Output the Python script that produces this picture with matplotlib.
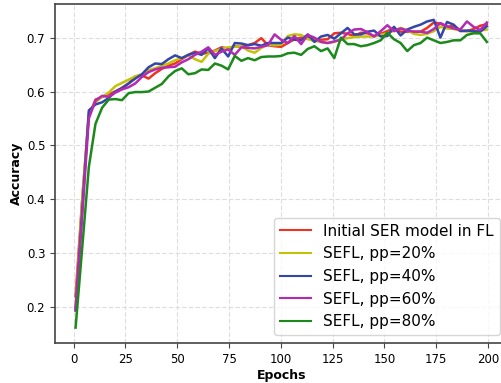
import numpy as np
import matplotlib

matplotlib.use("Agg")
import matplotlib.pyplot as plt  # noqa: E402

# evaluation epochs (one point roughly every 3.2 epochs)
epochs = np.arange(1, 200, 3.2)

initial_ser = [
    0.220, 0.400, 0.555, 0.585, 0.590, 0.595, 0.600, 0.607, 0.615, 0.628,
    0.630, 0.624, 0.634, 0.642, 0.648, 0.652, 0.660, 0.668, 0.674, 0.670,
    0.672, 0.676, 0.682, 0.680, 0.684, 0.683, 0.686, 0.690, 0.699, 0.686,
    0.684, 0.683, 0.690, 0.697, 0.700, 0.702, 0.697, 0.696, 0.697, 0.708,
    0.709, 0.707, 0.703, 0.709, 0.708, 0.703, 0.707, 0.712, 0.718, 0.711,
    0.711, 0.711, 0.711, 0.718, 0.728, 0.726, 0.720, 0.722, 0.713, 0.712,
    0.716, 0.722, 0.725,
]
sefl_pp20 = [
    0.200, 0.400, 0.560, 0.580, 0.590, 0.598, 0.610, 0.616, 0.622, 0.628,
    0.632, 0.640, 0.643, 0.648, 0.652, 0.658, 0.662, 0.667, 0.660, 0.655,
    0.670, 0.675, 0.679, 0.682, 0.683, 0.684, 0.676, 0.672, 0.681, 0.687,
    0.686, 0.687, 0.703, 0.706, 0.705, 0.697, 0.694, 0.692, 0.690, 0.692,
    0.697, 0.699, 0.701, 0.702, 0.702, 0.702, 0.705, 0.708, 0.713, 0.718,
    0.714, 0.707, 0.705, 0.707, 0.712, 0.720, 0.717, 0.716, 0.713, 0.712,
    0.711, 0.713, 0.715,
]
sefl_pp40 = [
    0.194, 0.380, 0.565, 0.576, 0.580, 0.588, 0.600, 0.606, 0.615, 0.624,
    0.632, 0.645, 0.652, 0.651, 0.660, 0.667, 0.662, 0.668, 0.672, 0.668,
    0.680, 0.662, 0.680, 0.665, 0.690, 0.689, 0.686, 0.688, 0.685, 0.690,
    0.690, 0.690, 0.700, 0.696, 0.695, 0.706, 0.692, 0.702, 0.705, 0.698,
    0.708, 0.718, 0.706, 0.706, 0.711, 0.713, 0.702, 0.703, 0.720, 0.704,
    0.715, 0.720, 0.724, 0.730, 0.733, 0.700, 0.729, 0.724, 0.712, 0.713,
    0.712, 0.711, 0.721,
]
sefl_pp60 = [
    0.194, 0.370, 0.550, 0.583, 0.592, 0.590, 0.598, 0.604, 0.608, 0.615,
    0.627, 0.636, 0.641, 0.644, 0.645, 0.646, 0.654, 0.660, 0.668, 0.674,
    0.682, 0.668, 0.674, 0.678, 0.668, 0.682, 0.681, 0.680, 0.683, 0.686,
    0.706, 0.696, 0.690, 0.703, 0.688, 0.705, 0.700, 0.692, 0.690, 0.693,
    0.696, 0.708, 0.715, 0.716, 0.710, 0.702, 0.712, 0.723, 0.712, 0.717,
    0.713, 0.711, 0.711, 0.709, 0.716, 0.727, 0.721, 0.717, 0.715, 0.730,
    0.720, 0.714, 0.728,
]
sefl_pp80 = [
    0.162, 0.310, 0.460, 0.540, 0.570, 0.585, 0.586, 0.584, 0.597, 0.599,
    0.599, 0.600, 0.607, 0.614, 0.628, 0.638, 0.643, 0.632, 0.634, 0.641,
    0.640, 0.652, 0.648, 0.641, 0.666, 0.657, 0.662, 0.658, 0.664, 0.665,
    0.665, 0.666, 0.671, 0.672, 0.668, 0.679, 0.684, 0.675, 0.680, 0.662,
    0.700, 0.688, 0.688, 0.684, 0.686, 0.690, 0.695, 0.709, 0.697, 0.690,
    0.675, 0.686, 0.690, 0.700, 0.695, 0.690, 0.692, 0.695, 0.695, 0.705,
    0.708, 0.708, 0.692,
]

series = [
    ("Initial SER model in FL", initial_ser, "#ee3322"),
    ("SEFL, pp=20%", sefl_pp20, "#c2c20a"),
    ("SEFL, pp=40%", sefl_pp40, "#3446a8"),
    ("SEFL, pp=60%", sefl_pp60, "#b42ab4"),
    ("SEFL, pp=80%", sefl_pp80, "#1b8a1b"),
]

fig = plt.figure(figsize=(5.01, 3.83), dpi=100)
ax = fig.add_axes([0.1098, 0.1044, 0.903, 0.884])

for label, vals, color in series:
    ax.plot(epochs, vals, color=color, lw=1.8, label=label)

ax.set_xticks([0, 25, 50, 75, 100, 125, 150, 175, 200])
ax.set_yticks([0.2, 0.3, 0.4, 0.5, 0.6, 0.7])
ax.tick_params(labelsize=8.5, color="#444444", length=3.5)
ax.grid(True, color="#dddddd", lw=0.8, linestyle=(0, (4, 2)))
for sp in ax.spines.values():
    sp.set_color("#444444")
    sp.set_linewidth(1.2)

ax.set_xlabel("Epochs", fontsize=9, fontweight="bold", labelpad=2)
ax.set_ylabel("Accuracy", fontsize=9, fontweight="bold", labelpad=3)

leg = ax.legend(loc="lower right", fontsize=11)
for ln in leg.get_lines():
    ln.set_linewidth(1.5)

fig.savefig("out.png", dpi=100)
plt.close(fig)
